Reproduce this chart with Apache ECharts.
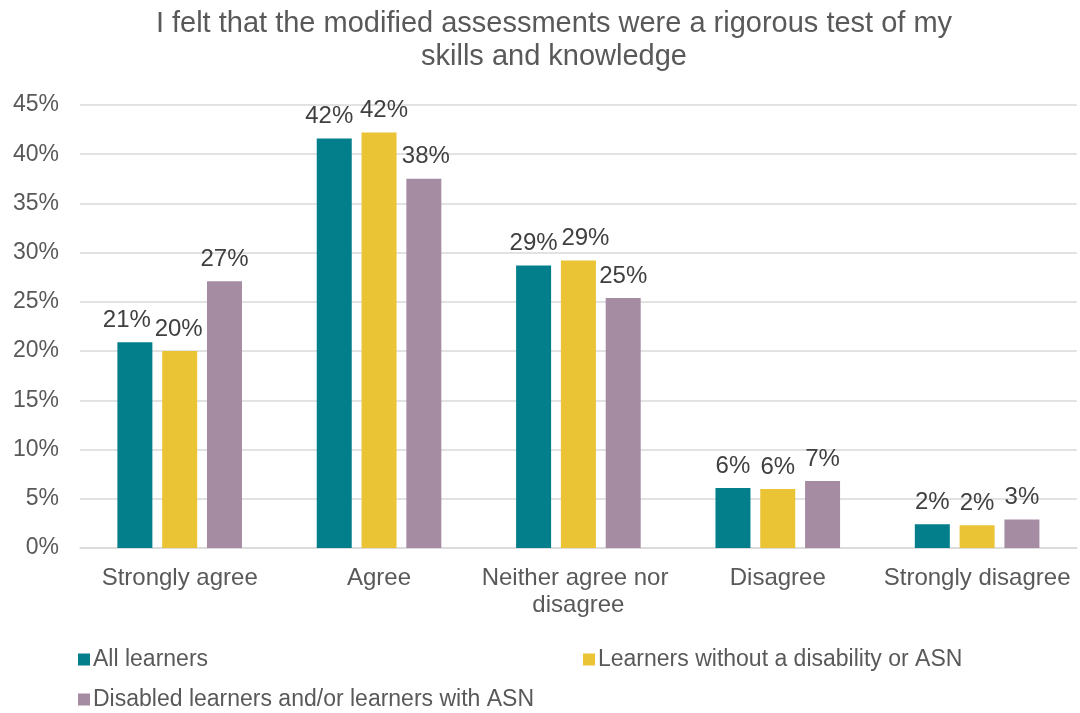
<!DOCTYPE html>
<html>
<head>
<meta charset="utf-8">
<script src="https://cdn.jsdelivr.net/npm/echarts@6/dist/echarts.min.js"></script>
<style>html,body{margin:0;padding:0;background:#fff}#c{width:1080px;height:713px}</style>
</head>
<body>
<div id="c"></div>
<script>
const titleText = "I felt that the modified assessments were a rigorous test of my\nskills and knowledge";
const categories = ["Strongly agree", "Agree", "Neither agree nor disagree", "Disagree", "Strongly disagree"];
const seriesNames = ["All learners", "Learners without a disability or ASN", "Disabled learners and/or learners with ASN"];
const allLearners = [20.9, 41.6, 28.7, 6.1, 2.4];
const withoutDisability = [20.0, 42.2, 29.2, 6.0, 2.3];
const disabledASN = [27.1, 37.5, 25.4, 6.8, 2.9];
const yTicks = [0, 45, 5];
const colors = ["#037F8C", "#EAC435", "#A68CA3"];
// horizontal nudges for data labels (avoid overlaps, like the original)
const labelNudge = [[-8, -5, 0, 0, 0], [-1, 5, 7, 0, 0], [0, 2, 0, 0, 0]];

const FONT = "'Liberation Sans', Arial, sans-serif";
const chart = echarts.init(document.getElementById('c'));
const values = [allLearners, withoutDisability, disabledASN];
chart.setOption({
  animation: false,
  textStyle: { fontFamily: FONT },
  title: {
    text: titleText,
    left: 549, top: 2, textAlign: 'center',
    textStyle: { fontFamily: FONT, fontSize: 29, fontWeight: 'normal', color: '#595959', lineHeight: 33 }
  },
  legend: [
    { data: [seriesNames[0]], left: 73, top: 643 },
    { data: [seriesNames[1]], left: 578, top: 643 },
    { data: [seriesNames[2]], left: 73, top: 683 }
  ].map(l => Object.assign(l, {
    icon: 'rect', itemWidth: 12, itemHeight: 12, itemGap: 8, orient: 'horizontal',
    textStyle: { fontFamily: FONT, fontSize: 23, color: '#595959', padding: [0, 0, 0, -2] }
  })),
  grid: { left: 80, right: 2, top: 105, bottom: 165, containLabel: false },
  xAxis: {
    type: 'category', data: categories,
    axisLine: { lineStyle: { color: '#D9D9D9', width: 1.5 } },
    axisTick: { show: false },
    axisLabel: { interval: 0, margin: 17, fontSize: 24, color: '#595959', fontFamily: FONT,
      width: 200, overflow: 'break', lineHeight: 27 }
  },
  yAxis: {
    type: 'value', min: yTicks[0], max: yTicks[1], interval: yTicks[2],
    axisLine: { show: false }, axisTick: { show: false },
    splitLine: { lineStyle: { color: '#D9D9D9', width: 1.5 } },
    axisLabel: { formatter: '{value}%', fontSize: 23, color: '#595959', margin: 21, fontFamily: FONT }
  },
  series: values.map((v, i) => ({
    name: seriesNames[i], type: 'bar',
    data: v.map((val, j) => ({ value: val, label: { offset: [labelNudge[i][j], 0] } })),
    barWidth: 35, barGap: '28%',
    itemStyle: { color: colors[i] },
    label: { show: true, position: 'top', distance: 10, fontSize: 24, color: '#404040', fontFamily: FONT,
      formatter: p => Math.round(p.value) + '%' }
  }))
});
</script>
</body>
</html>
